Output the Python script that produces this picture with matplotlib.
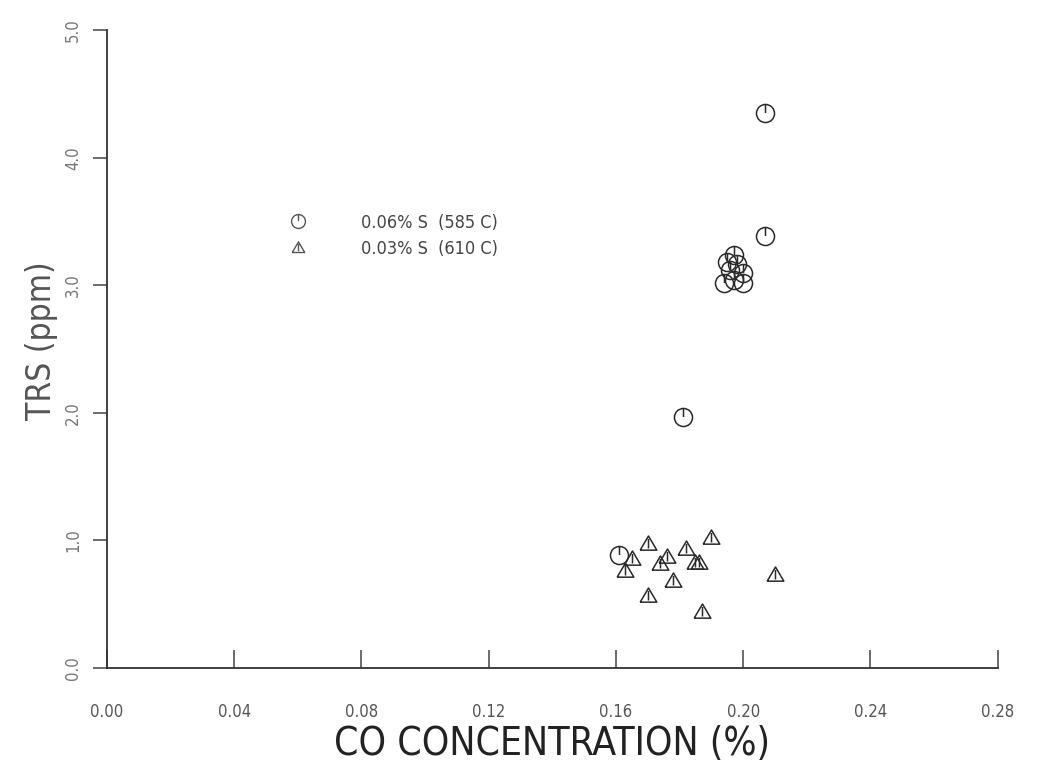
import matplotlib
matplotlib.use("Agg")
import matplotlib.pyplot as plt
from matplotlib.path import Path
from matplotlib.lines import Line2D

# 0.06% S (585 C) -- circles
co_hi = [0.207, 0.207, 0.197, 0.195, 0.198, 0.196, 0.200, 0.194, 0.200, 0.197, 0.181, 0.161]
trs_hi = [4.35, 3.39, 3.24, 3.18, 3.17, 3.12, 3.10, 3.02, 3.02, 3.04, 1.97, 0.89]

# 0.03% S (610 C) -- triangles
co_lo = [0.170, 0.182, 0.190, 0.165, 0.163, 0.174, 0.176, 0.185, 0.186, 0.178, 0.170, 0.187, 0.210]
trs_lo = [0.98, 0.94, 1.03, 0.86, 0.77, 0.82, 0.88, 0.83, 0.83, 0.69, 0.57, 0.45, 0.74]

labels = ["0.06% S  (585 C)", "0.03% S  (610 C)"]
xticks = [0.00, 0.04, 0.08, 0.12, 0.16, 0.20, 0.24, 0.28]
yticks = [0.0, 1.0, 2.0, 3.0, 4.0, 5.0]

# plotter-style symbols: circle / triangle with a stroke inside
M, L = Path.MOVETO, Path.LINETO
circ = Path.make_compound_path(Path.unit_circle(),
                               Path([[0, 0.05], [0, 0.95]], [M, L]))
tri = Path([[-1, -0.8], [0, 0.9], [1, -0.8], [-1, -0.8], [0, 0.55], [0, -0.6]],
           [M, L, L, L, M, L])

ink = "#2a2a2a"
font = "DejaVu Sans"

fig = plt.figure(figsize=(10.48, 7.73), dpi=100)
ax = fig.add_axes([0.102, 0.1358, 0.850, 0.825])

ax.plot(co_hi, trs_hi, linestyle="none", marker=circ, markersize=13,
        markerfacecolor="none", markeredgecolor=ink, markeredgewidth=1.1)
ax.plot(co_lo, trs_lo, linestyle="none", marker=tri, markersize=12,
        markerfacecolor="none", markeredgecolor=ink, markeredgewidth=1.1)

ax.set_xlim(0, 0.28)
ax.set_ylim(0, 5.0)
ax.set_xticks(xticks)
ax.set_yticks(yticks)
ax.set_xticklabels([f"{v:.2f}" for v in xticks], family=font, stretch="condensed",
                   fontsize=12, color="#555")
ax.set_yticklabels([f"{v:.1f}" for v in yticks], family=font, stretch="condensed",
                   fontsize=12, color="#777", rotation=90, va="center")

for s in ["top", "right"]:
    ax.spines[s].set_visible(False)
for s in ["left", "bottom"]:
    ax.spines[s].set_color("#333")
    ax.spines[s].set_linewidth(1.3)

ax.tick_params(axis="x", direction="in", length=13, width=1.1, color="#444", pad=25)
ax.tick_params(axis="y", direction="out", length=10, width=1.1, color="#444", pad=8)

ax.set_xlabel("CO CONCENTRATION (%)", family=font, stretch="condensed",
              weight="light", fontsize=28, color="#222", labelpad=3)
ax.set_ylabel("TRS (ppm)", family=font, stretch="condensed", weight="light",
              fontsize=24, color="#555")
ax.yaxis.set_label_coords(-0.055, 0.514)

handles = [
    Line2D([], [], linestyle="none", marker=circ, markersize=10,
           markerfacecolor="none", markeredgecolor="#555", markeredgewidth=1.0),
    Line2D([], [], linestyle="none", marker=tri, markersize=9,
           markerfacecolor="none", markeredgecolor="#555", markeredgewidth=1.0),
]
leg = ax.legend(handles, labels, loc="center left", bbox_to_anchor=(0.176, 0.678),
                frameon=False, handletextpad=2.5, labelspacing=0.45,
                prop={"family": font, "stretch": "condensed", "size": 13})
for t in leg.get_texts():
    t.set_color("#444")

fig.savefig("out.png", dpi=100)
